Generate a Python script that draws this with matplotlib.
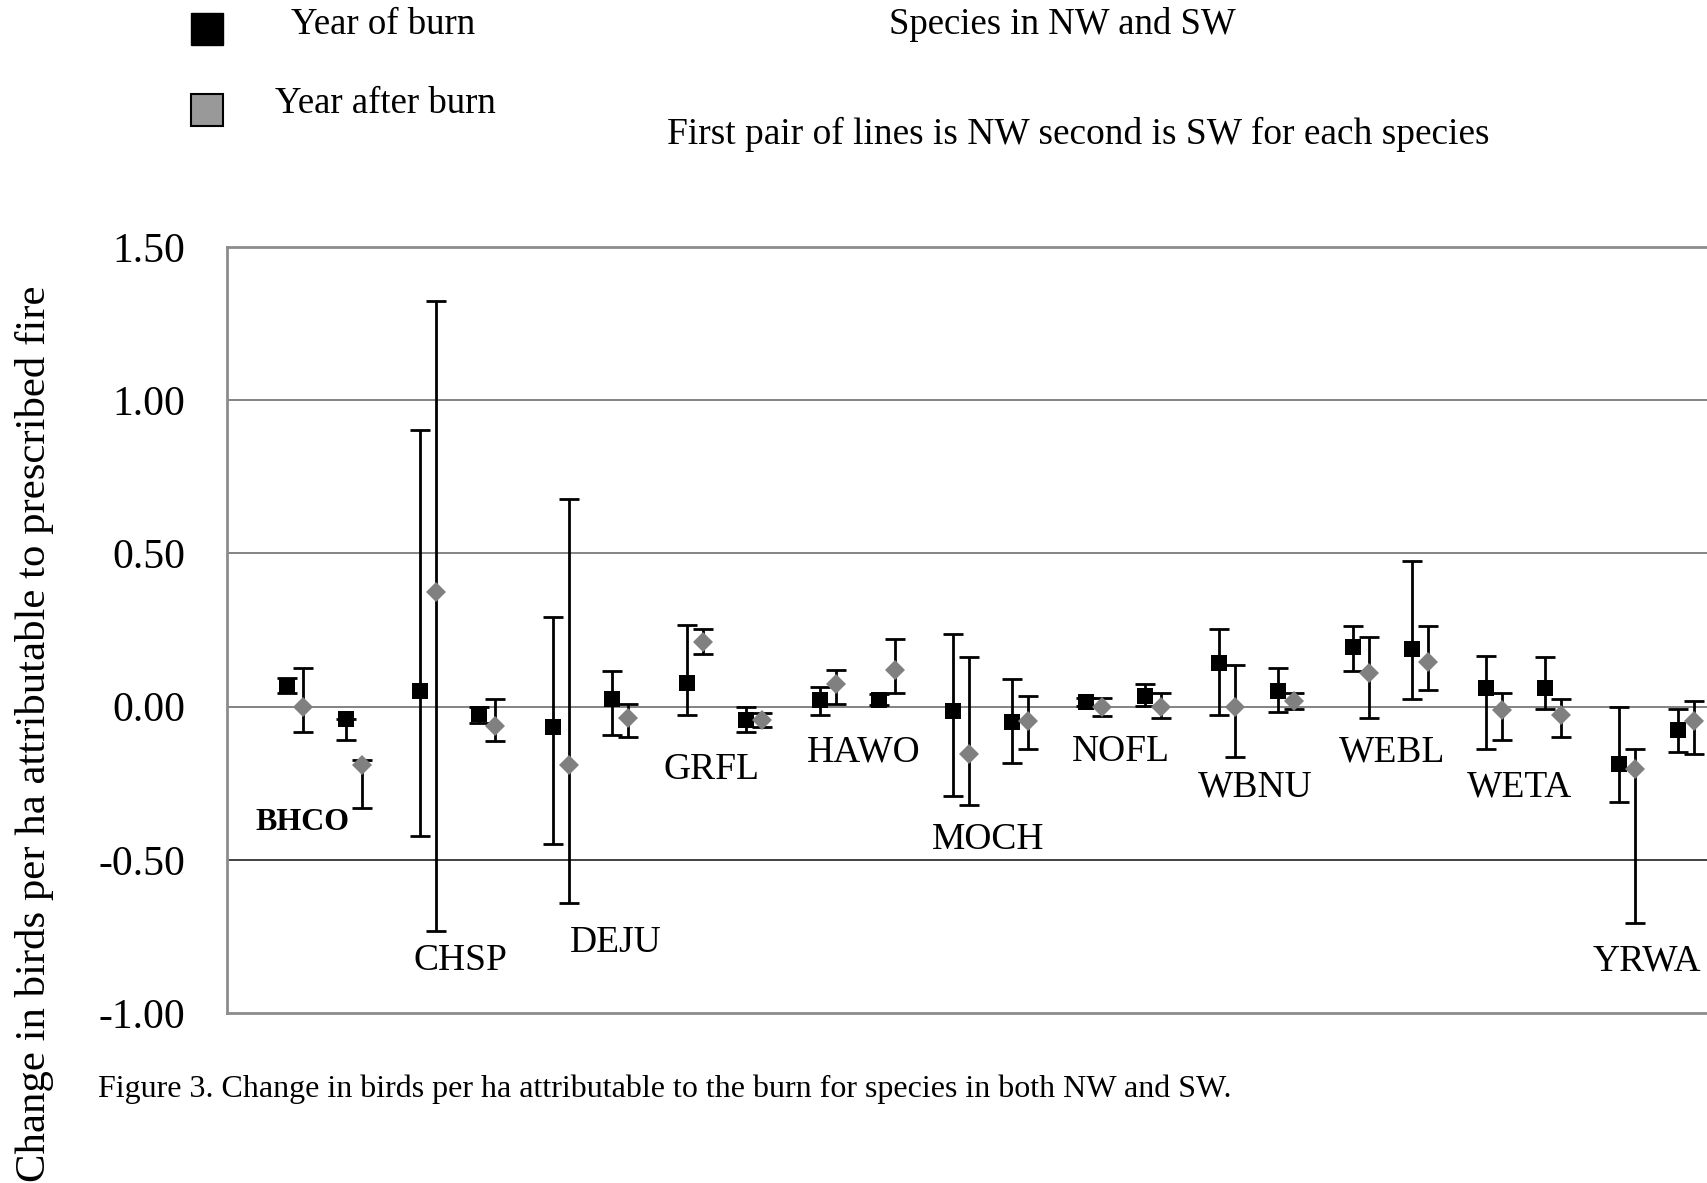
import matplotlib
matplotlib.use("Agg")
import matplotlib.pyplot as plt
import numpy as np
from matplotlib.patches import Rectangle

plt.rcParams['font.family'] = ['Liberation Serif', 'DejaVu Serif']

species = ["BHCO", "CHSP", "DEJU", "GRFL", "HAWO", "MOCH", "NOFL",
           "WBNU", "WEBL", "WETA", "YRWA"]

# Year of burn (squares) - NW
nw_burn = [0.068, 0.051, -0.068, 0.076, 0.022, -0.015, 0.014, 0.141, 0.196, 0.060, -0.188]
nw_burn_lo = [0.046, -0.422, -0.449, -0.028, -0.028, -0.293, 0.002, -0.029, 0.117, -0.137, -0.312]
nw_burn_hi = [0.094, 0.904, 0.292, 0.265, 0.064, 0.237, 0.028, 0.253, 0.264, 0.164, 0.000]
# Year after burn (diamonds) - NW
nw_after = [0.000, 0.375, -0.192, 0.210, 0.073, -0.155, 0.000, 0.000, 0.111, -0.010, -0.203]
nw_after_lo = [-0.083, -0.734, -0.640, 0.173, 0.009, -0.321, -0.030, -0.165, -0.038, -0.110, -0.705]
nw_after_hi = [0.127, 1.324, 0.676, 0.253, 0.119, 0.163, 0.027, 0.136, 0.228, 0.046, -0.138]
# Year of burn (squares) - SW
sw_burn = [-0.042, -0.025, 0.024, -0.043, 0.022, -0.051, 0.033, 0.051, 0.187, 0.060, -0.076]
sw_burn_lo = [-0.109, -0.054, -0.092, -0.083, 0.005, -0.183, 0.002, -0.018, 0.026, -0.008, -0.148]
sw_burn_hi = [-0.040, -0.002, 0.117, 0.000, 0.040, 0.091, 0.073, 0.127, 0.475, 0.163, -0.009]
# Year after burn (diamonds) - SW
sw_after = [-0.192, -0.063, -0.037, -0.044, 0.119, -0.046, 0.000, 0.019, 0.146, -0.027, -0.047]
sw_after_lo = [-0.331, -0.111, -0.100, -0.065, 0.045, -0.138, -0.038, -0.009, 0.053, -0.100, -0.155]
sw_after_hi = [-0.174, 0.026, 0.008, -0.021, 0.220, 0.036, 0.046, 0.046, 0.264, 0.026, 0.019]

yticks = [1.50, 1.00, 0.50, 0.00, -0.50, -1.00]

# layout (label positions relative to species index)
label_dx = [0.12, 0.30, 0.47, 0.19, 0.33, 0.26, 0.26, 0.27, 0.30, 0.25, 0.21]
label_y = [-0.379, -0.83, -0.77, -0.207, -0.148, -0.434, -0.148, -0.262, -0.148, -0.262, -0.83]

W, H = 1708, 1183
fig = plt.figure(figsize=(W / 100, H / 100), dpi=100)

ax_left, ax_right, ax_top, ax_bottom = 227, 1800, 247, 1013
ax = fig.add_axes([ax_left / W, 1 - ax_bottom / H, (ax_right - ax_left) / W, (ax_bottom - ax_top) / H])

spacing = 133.2
x0 = 287
ax.set_xlim(-(x0 - ax_left) / spacing, (ax_right - x0) / spacing)
ax.set_ylim(-1.0, 1.5)

idx = np.arange(len(species))
offsets = [0.0, 0.12, 0.443, 0.563]

def draw(xs, vals, lo, hi, marker, color, ms):
    vals = np.array(vals); lo = np.array(lo); hi = np.array(hi)
    yerr = np.vstack([np.clip(vals - lo, 0, None), np.clip(hi - vals, 0, None)])
    ax.errorbar(xs, vals, yerr=yerr, fmt='none', ecolor='black', elinewidth=2.0,
                capsize=7, capthick=2.0, zorder=3)
    ax.plot(xs, vals, linestyle='none', marker=marker, color=color,
            markersize=ms, markeredgewidth=0, zorder=4)

draw(idx + offsets[0], nw_burn, nw_burn_lo, nw_burn_hi, 's', 'black', 11)
draw(idx + offsets[1], nw_after, nw_after_lo, nw_after_hi, 'D', '#808080', 10)
draw(idx + offsets[2], sw_burn, sw_burn_lo, sw_burn_hi, 's', 'black', 11)
draw(idx + offsets[3], sw_after, sw_after_lo, sw_after_hi, 'D', '#808080', 10)

for i, name in enumerate(species):
    if name == "BHCO":
        ax.text(i + label_dx[i], label_y[i], name, ha='center', va='center',
                fontsize=23, fontweight='bold', zorder=5)
    else:
        ax.text(i + label_dx[i], label_y[i], name, ha='center', va='center',
                fontsize=27, zorder=5)

ax.set_yticks(yticks)
ax.set_yticklabels([f"{t:.2f}" for t in yticks], fontsize=30)
ax.tick_params(axis='y', length=0, pad=30)
ax.set_xticks([])
for y in [1.0, 0.5, 0.0]:
    ax.axhline(y, color='#7a7a7a', lw=1.3, zorder=1)
ax.axhline(-0.5, color='#333333', lw=1.3, zorder=1)
for s in ax.spines.values():
    s.set_color('#8c8c8c')
    s.set_linewidth(2)

# y-axis label
fig.text(35 / W, 1 - 285 / H, "Change in birds per ha attributable to prescribed fire",
         rotation=90, ha='center', va='top', fontsize=30.8)

# legend
fig.add_artist(Rectangle((191 / W, 1 - 45 / H), 32 / W, 32 / H, transform=fig.transFigure,
                         facecolor='black', edgecolor='black', lw=1))
fig.add_artist(Rectangle((191 / W, 1 - 126 / H), 32 / W, 32 / H, transform=fig.transFigure,
                         facecolor='#999999', edgecolor='black', lw=1.5))
fig.text(383 / W, 1 - 25 / H, "Year of burn", ha='center', va='center', fontsize=26.5)
fig.text(385 / W, 1 - 104 / H, "Year after burn", ha='center', va='center', fontsize=26.5)

fig.text(1062 / W, 1 - 25 / H, "Species in NW and SW", ha='center', va='center', fontsize=26.5)
fig.text(1078 / W, 1 - 134 / H, "First pair of lines is NW second is SW for each species",
         ha='center', va='center', fontsize=26.9)

fig.text(98 / W, 1 - 1089 / H,
         "Figure 3. Change in birds per ha attributable to the burn for species in both NW and SW.",
         ha='left', va='center', fontsize=23)

fig.savefig("out.png", dpi=100)
